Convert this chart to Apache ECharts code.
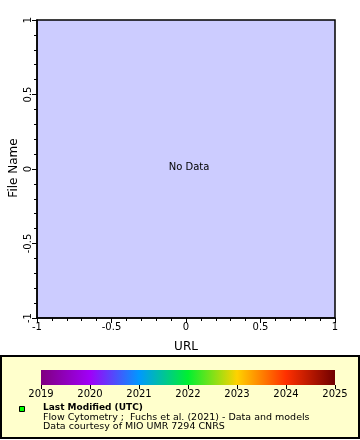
<!DOCTYPE html>
<html><head><meta charset="utf-8">
<script src="https://cdn.jsdelivr.net/npm/echarts@6/dist/echarts.min.js"></script>
<style>html,body{margin:0;padding:0;background:#fff}#c{width:360px;height:440px}</style>
</head><body><div id="c"></div>
<script>
var xRange = [-1, 1];
var yRange = [-1, 1];
var xName = 'URL';
var yName = 'File Name';
var emptyText = 'No Data';
var colorYears = [2019, 2020, 2021, 2022, 2023, 2024, 2025];
var colorStops = ['#800080', '#a000f8', '#0098ff', '#00f030', '#ffd200', '#ff3000', '#700000'];
var legendTitle = 'Last Modified (UTC)';
var legendLines = ['Flow Cytometry ;  Fuchs et al. (2021) - Data and models', 'Data courtesy of MIO UMR 7294 CNRS'];

var FONT = 'DejaVu Sans';
var chart = echarts.init(document.getElementById('c'));
var stops = colorStops.map(function (c, i) { return { offset: i / (colorStops.length - 1), color: c }; });

chart.setOption({
  animation: false,
  textStyle: { fontFamily: FONT },
  grid: [
    { left: 37, top: 20, right: 25, bottom: 122, show: true, backgroundColor: '#ccccff', borderColor: '#000', borderWidth: 1.5, containLabel: false, outerBoundsMode: 'none' },
    { left: 41, top: 370, right: 25, height: 15, show: false, containLabel: false, outerBoundsMode: 'none' }
  ],
  xAxis: [
    { gridIndex: 0, type: 'value', min: xRange[0], max: xRange[1], interval: 0.5,
      name: xName, nameLocation: 'middle', nameGap: 23, nameTextStyle: { fontSize: 12, color: '#000', fontFamily: FONT },
      axisLine: { onZero: false, lineStyle: { color: '#000', width: 1.5 } },
      axisTick: { length: 5, lineStyle: { color: '#000' } },
      minorTick: { show: true, splitNumber: 5, length: 3, lineStyle: { color: '#000' } },
      splitLine: { show: false },
      axisLabel: { fontSize: 10, color: '#000', margin: 4, fontFamily: FONT } },
    { gridIndex: 1, type: 'value', min: colorYears[0], max: colorYears[colorYears.length - 1], interval: 1,
      axisLine: { show: false },
      axisTick: { length: 4, lineStyle: { color: '#000' } },
      splitLine: { show: false },
      axisLabel: { fontSize: 10, color: '#000', margin: 4, fontFamily: FONT, formatter: function (v) { return String(v); } } }
  ],
  yAxis: [
    { gridIndex: 0, type: 'value', min: yRange[0], max: yRange[1], interval: 0.5,
      axisLine: { onZero: false, lineStyle: { color: '#000', width: 1.5 } },
      axisTick: { length: 5, lineStyle: { color: '#000' } },
      minorTick: { show: true, splitNumber: 5, length: 3, lineStyle: { color: '#000' } },
      splitLine: { show: false },
      axisLabel: { fontSize: 10, color: '#000', margin: 4, rotate: 90, fontFamily: FONT } },
    { gridIndex: 1, type: 'value', min: 0, max: 1, show: false }
  ],
  graphic: [
    { type: 'rect', z: -10, shape: { x: 1, y: 356, width: 358, height: 82 }, style: { fill: '#ffffcc', stroke: '#000', lineWidth: 2 } },
    { type: 'text', x: 14, y: 168, rotation: Math.PI / 2, style: { text: yName, fontSize: 12, fontFamily: FONT, fill: '#000', align: 'center', verticalAlign: 'middle' } },
    { type: 'text', x: 189, y: 167, style: { text: emptyText, fontSize: 10, fontFamily: FONT, fill: '#000', align: 'center', verticalAlign: 'middle' } },
    { type: 'rect', shape: { x: 19.5, y: 406.5, width: 5, height: 5 }, style: { fill: '#00ff00', stroke: '#000', lineWidth: 1 } },
    { type: 'text', x: 43, y: 403, style: { text: legendTitle, fontSize: 9, fontWeight: 'bold', fontFamily: FONT, fill: '#000' } },
    { type: 'text', x: 43, y: 412.5, style: { text: legendLines[0], fontSize: 9.5, fontFamily: FONT, fill: '#000' } },
    { type: 'text', x: 43, y: 421.5, style: { text: legendLines[1], fontSize: 9.5, fontFamily: FONT, fill: '#000' } }
  ],
  series: [
    { type: 'custom', xAxisIndex: 1, yAxisIndex: 1, silent: true,
      data: [[colorYears[0], colorYears[colorYears.length - 1]]],
      renderItem: function (params, api) {
        var p0 = api.coord([api.value(0), 1]);
        var p1 = api.coord([api.value(1), 0]);
        return { type: 'rect', shape: { x: p0[0], y: p0[1], width: p1[0] - p0[0], height: p1[1] - p0[1] },
          style: { fill: new echarts.graphic.LinearGradient(0, 0, 1, 0, stops) } };
      } }
  ]
});
</script></body></html>
